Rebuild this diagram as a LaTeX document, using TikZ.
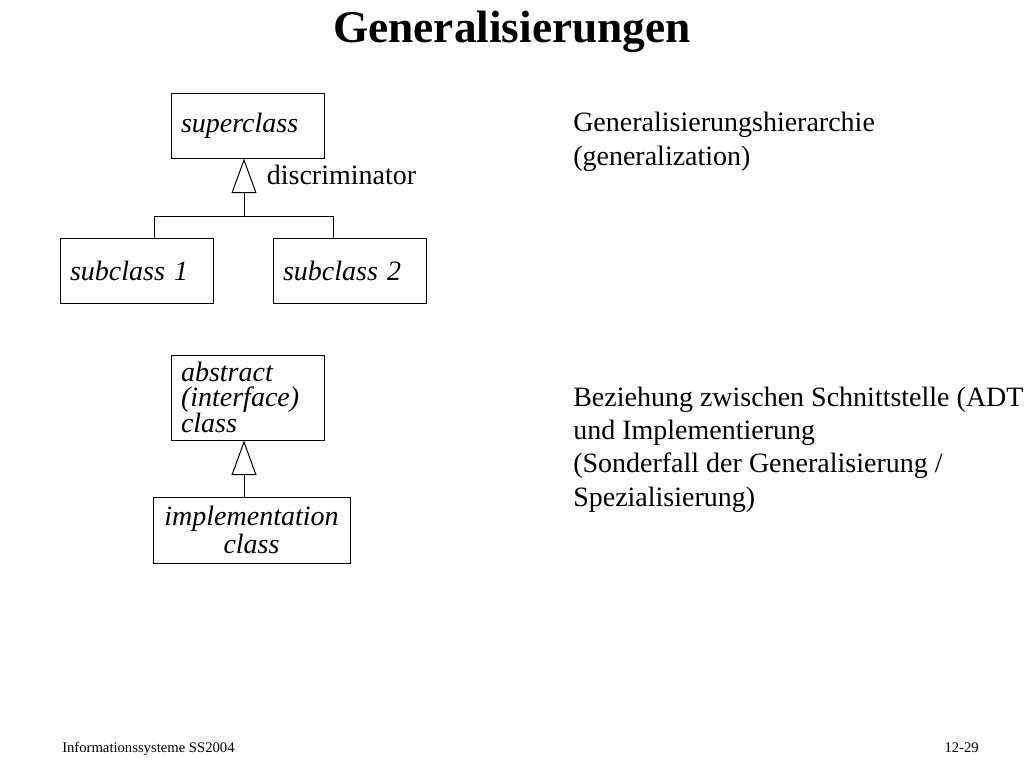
\documentclass[tikz,border=0pt]{standalone}
\usepackage{fontspec}
\setmainfont{Liberation Serif}
\usetikzlibrary{arrows.meta}

\begin{document}
\begin{tikzpicture}[
  x=0.75pt, y=-0.75pt,
  classnode/.style={%
    rectangle,%
    draw=black,
    %very thick,%
    line width=0.75pt,%
    inner xsep=7.5pt,%
    inner ysep=0pt,%
    text width=99.75pt,%
    align=left,%
    font=\fontsize{21}{18.5}\selectfont\itshape,%
    minimum height=48.75pt%
  },
  implnode/.style={%
    classnode,%
    text width=132.75pt,%
    align=center,%
    font=\fontsize{21}{21}\selectfont\itshape%
  },
  plaintext/.style={%
    align=left,%
    inner sep=0pt,%
    font=\fontsize{21}{25}\selectfont%
  },
  footnode/.style={%
    inner sep=0pt,%
    font=\fontsize{11}{13}\selectfont%
  },
  genline/.style={%
    line width=0.75pt,%
    -{Triangle[open,length=26pt,width=18.75pt]}%
  },
  joinline/.style={%
    line width=0.75pt%
  }
]

  \clip (0,0) rectangle (1024,768);

  \node [font=\fontsize{34}{40}\selectfont\bfseries] (title) at (512,32) {Generalisierungen};

  % upper hierarchy
  \node [classnode]                          (super) at (247.5,125.5) {superclass};
  \node [classnode]                          (sub1)  at (136.5,270.5) {subclass 1};
  \node [classnode]                          (sub2)  at (349.5,270.5) {subclass 2};
  \node [font=\fontsize{21}{24}\selectfont]  (disc)  at (341.5,175)   {discriminator};

  \coordinate (j1) at (244,216);
  \coordinate (b1) at (154,216);
  \coordinate (b2) at (333,216);

  \draw[genline]  (j1) -- (j1 |- super.south);
  \draw[joinline] (b1 |- sub1.north) -- (b1) -- (b2) -- (b2 |- sub2.north);

  % lower hierarchy
  \node [classnode, minimum height=63.75pt]  (abst)  at (247.5,397.5) {abstract\\(interface)\\class};
  \node [implnode, minimum height=49.5pt]    (impl)  at (251.5,530)   {implementation\\class};

  \coordinate (j2) at (244,497);

  \draw[genline]  (j2 |- impl.north) -- (j2 |- abst.south);

  % remarks (base = last line)
  \node [plaintext, anchor=base west] (rem1) at (573,165) {Generalisierungshierarchie\\(generalization)};
  \node [plaintext, anchor=base west] (rem2) at (573,506) {Beziehung zwischen Schnittstelle (ADT)\\und Implementierung\\(Sonderfall der Generalisierung /\\Spezialisierung)};

  \node [footnode, anchor=base west] (foot1) at (62,752)  {Informationssysteme SS2004};
  \node [footnode, anchor=base east] (foot2) at (979,752) {12-29};

\end{tikzpicture}
\end{document}
